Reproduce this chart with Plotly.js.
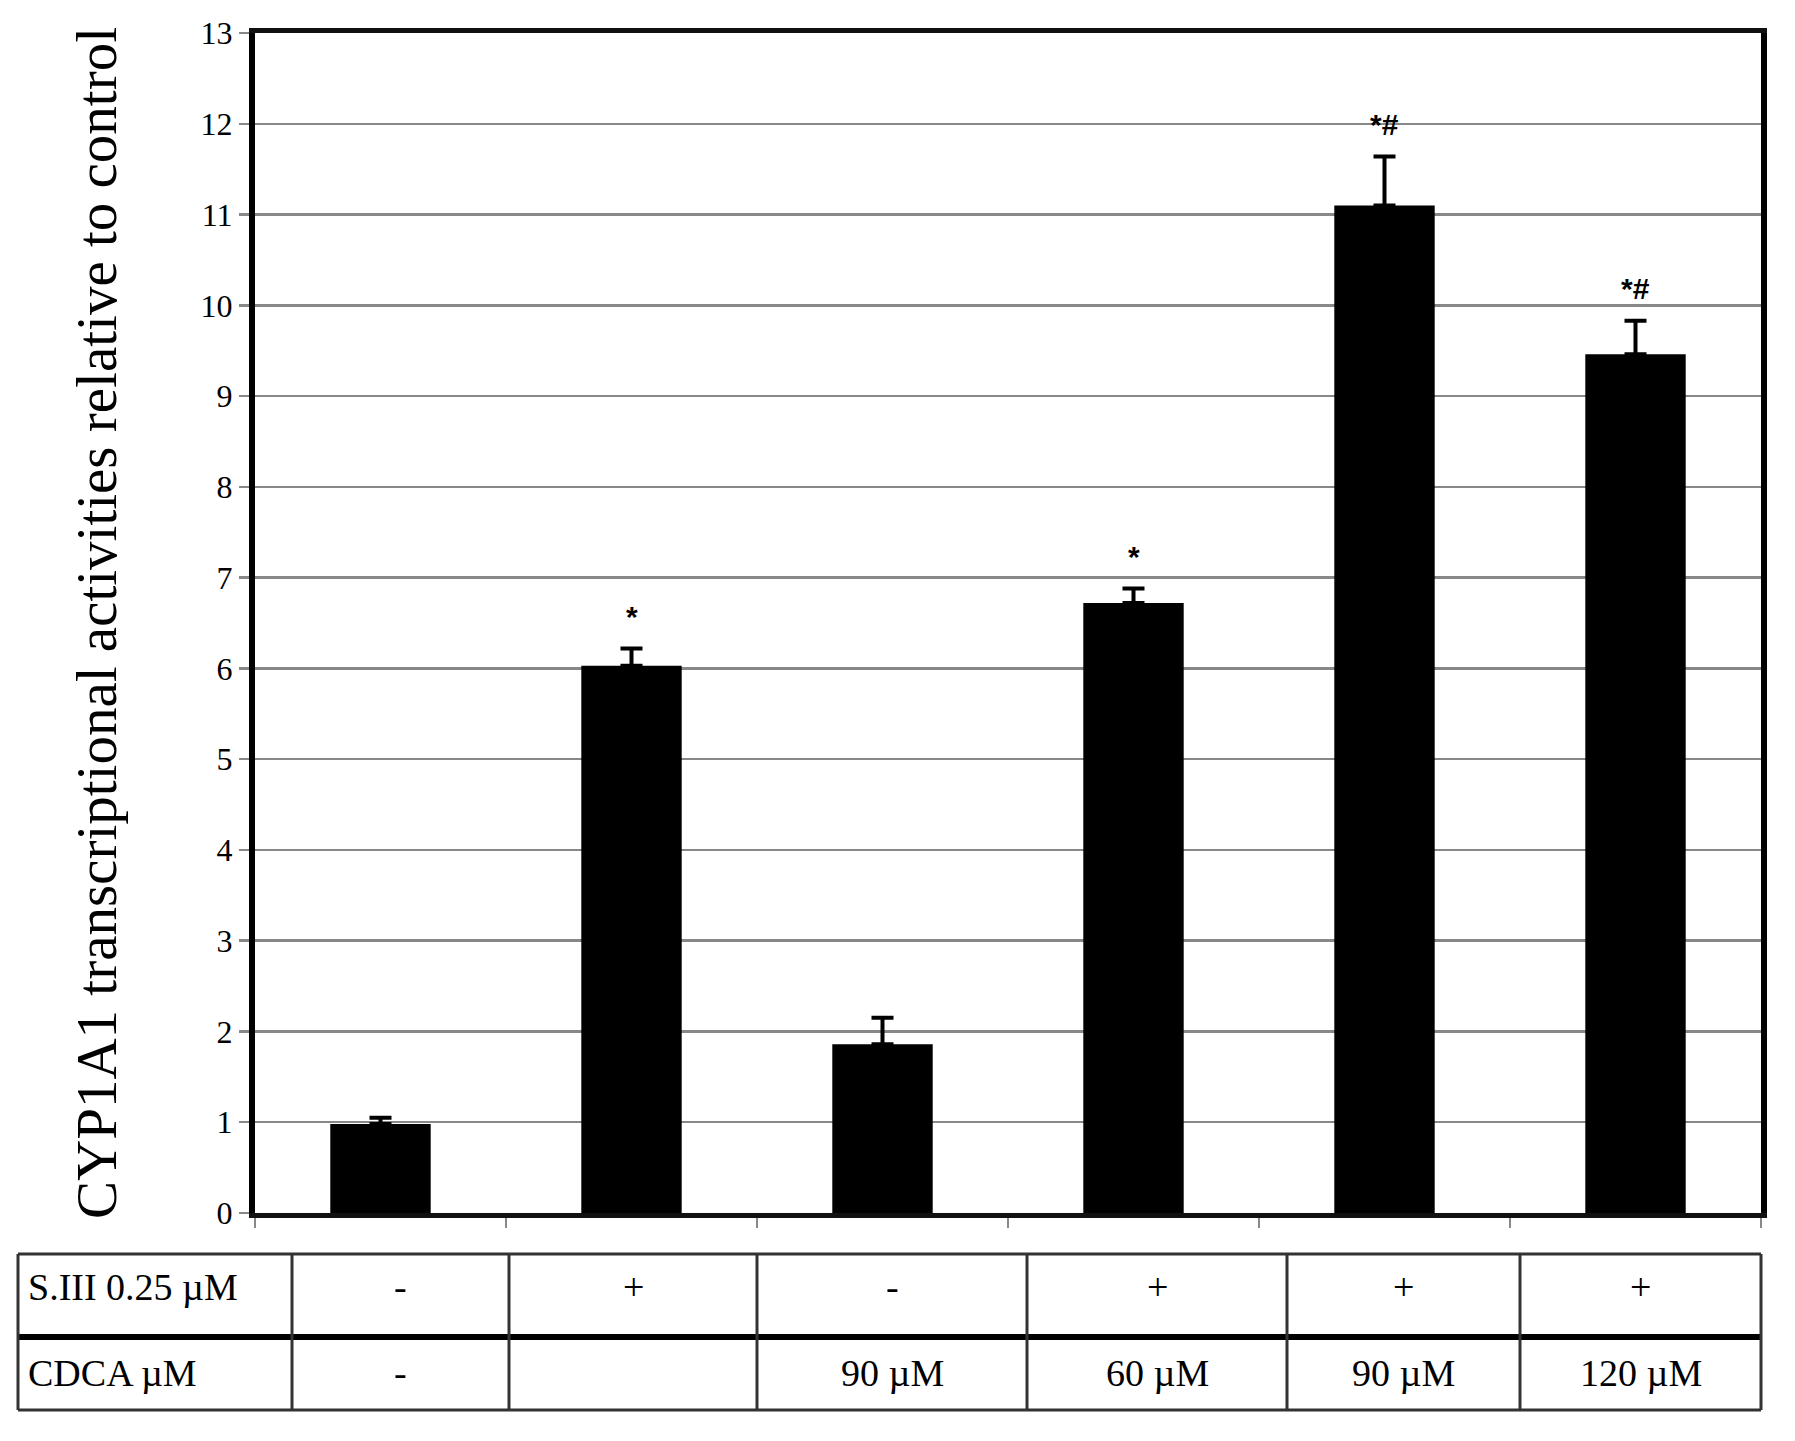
<!DOCTYPE html>
<html>
<head>
<meta charset="utf-8">
<script src="https://cdn.plot.ly/plotly-3.0.1.min.js"></script>
<style>
  html, body { margin: 0; padding: 0; background: #ffffff; }
  #chart { width: 1795px; height: 1441px; }
</style>
</head>
<body>
<div id="chart"></div>
<script>
// ---- Data ----
var groups = ['Control', 'S.III', 'CDCA 90', 'S.III + CDCA 60', 'S.III + CDCA 90', 'S.III + CDCA 120'];
var activity = [0.98, 6.03, 1.86, 6.72, 11.10, 9.46];
var activityErr = [0.07, 0.19, 0.29, 0.16, 0.54, 0.37];
var significance = ['', '*', '', '*', '*#', '*#'];

var rowLabels = ['S.III 0.25 \u00b5M', 'CDCA \u00b5M'];
var siiiRow = ['-', '+', '-', '+', '+', '+'];
var cdcaRow = ['-', '', '90 \u00b5M', '60 \u00b5M', '90 \u00b5M', '120 \u00b5M'];

var yTickVals = [0,1,2,3,4,5,6,7,8,9,10,11,12,13];

// ---- Layout geometry (pixels) ----
var W = 1795, H = 1441;
var M = {l: 255, r: 34, t: 33, b: 228};
var plotW = W - M.l - M.r, plotH = H - M.t - M.b;
function px2x(px) { return (px - M.l) / plotW; }
function py2y(py) { return (H - M.b - py) / plotH; }

// table layout (pixels)
var tblLeft = 18, tblRight = 1761;
var tblTop = 1254, tblMid = 1337, tblBottom = 1410;
var colEdges = [292, 509, 757, 1027, 1287, 1520, 1761];
var serif = 'Liberation Serif, Times New Roman, serif';

var shapes = [];
function hline(py, x0, x1, w, c) {
  shapes.push({type: 'line', xref: 'paper', yref: 'paper',
    x0: px2x(x0), x1: px2x(x1), y0: py2y(py), y1: py2y(py),
    line: {color: c, width: w}});
}
function vline(px, y0, y1, w, c) {
  shapes.push({type: 'line', xref: 'paper', yref: 'paper',
    x0: px2x(px), x1: px2x(px), y0: py2y(y0), y1: py2y(y1),
    line: {color: c, width: w}});
}
hline(tblTop, tblLeft, tblRight, 3, '#333333');
hline(tblMid, tblLeft, tblRight, 6, '#000000');
hline(tblBottom, tblLeft, tblRight, 3, '#333333');
vline(tblLeft, tblTop, tblBottom, 3, '#333333');
colEdges.forEach(function (e) { vline(e, tblTop, tblBottom, 3, '#333333'); });

var annotations = [];
// row labels
var row1Y = 1287, row2Y = 1373;
annotations.push({xref: 'paper', yref: 'paper', x: px2x(26), y: py2y(row1Y),
  xanchor: 'left', yanchor: 'middle', text: rowLabels[0], showarrow: false,
  font: {family: serif, size: 38, color: '#000'}});
annotations.push({xref: 'paper', yref: 'paper', x: px2x(26), y: py2y(row2Y),
  xanchor: 'left', yanchor: 'middle', text: rowLabels[1], showarrow: false,
  font: {family: serif, size: 38, color: '#000'}});
for (var i = 0; i < groups.length; i++) {
  var cx = (colEdges[i] + colEdges[i + 1]) / 2;
  annotations.push({xref: 'paper', yref: 'paper', x: px2x(cx), y: py2y(row1Y),
    xanchor: 'center', yanchor: 'middle', text: siiiRow[i], showarrow: false,
    font: {family: serif, size: 38, color: '#000'}});
  if (cdcaRow[i]) {
    annotations.push({xref: 'paper', yref: 'paper', x: px2x(cx), y: py2y(row2Y),
      xanchor: 'center', yanchor: 'middle', text: cdcaRow[i], showarrow: false,
      font: {family: serif, size: 38, color: '#000'}});
  }
  // significance marks above error bars
  if (significance[i]) {
    annotations.push({xref: 'x', yref: 'y', x: groups[i], y: activity[i] + activityErr[i],
      yshift: 32, xanchor: 'center', yanchor: 'middle', text: '<b>' + significance[i] + '</b>', showarrow: false,
      font: {family: 'Liberation Sans, Arial, sans-serif', size: 30, color: '#000'}});
  }
}

var trace = {
  type: 'bar',
  x: groups,
  y: activity,
  marker: {color: '#000000', line: {width: 0}},
  error_y: {type: 'data', array: activityErr, symmetric: false, arrayminus: activity.map(function(){return 0;}),
    visible: true, color: '#000000', thickness: 4, width: 11},
  hoverinfo: 'x+y'
};

var layout = {
  width: W, height: H, autosize: false,
  margin: M,
  paper_bgcolor: '#ffffff', plot_bgcolor: '#ffffff',
  showlegend: false,
  bargap: 0.6,
  font: {family: serif, color: '#000'},
  xaxis: {
    type: 'category', range: [-0.5, 5.5], fixedrange: true,
    showline: true, linecolor: '#111111', linewidth: 5, mirror: true,
    ticks: 'outside', tickson: 'boundaries', ticklen: 10, tickwidth: 2, tickcolor: '#888888',
    showticklabels: false, showgrid: false, zeroline: false
  },
  yaxis: {
    range: [0, 13], tickvals: yTickVals, ticktext: yTickVals.map(String), fixedrange: true,
    showline: true, linecolor: '#000000', linewidth: 6, mirror: true,
    ticks: 'outside', ticklen: 10, tickwidth: 2.5, tickcolor: '#888888',
    showgrid: true, gridcolor: '#888888', gridwidth: 2.5, zeroline: false,
    tickfont: {family: serif, size: 32, color: '#000'},
    title: {text: 'CYP1A1 transcriptional activities relative to control',
      font: {family: serif, size: 57, color: '#000'}, standoff: 68}
  },
  shapes: shapes,
  annotations: annotations
};

Plotly.newPlot('chart', [trace], layout, {displayModeBar: false, staticPlot: true});
</script>
</body>
</html>
